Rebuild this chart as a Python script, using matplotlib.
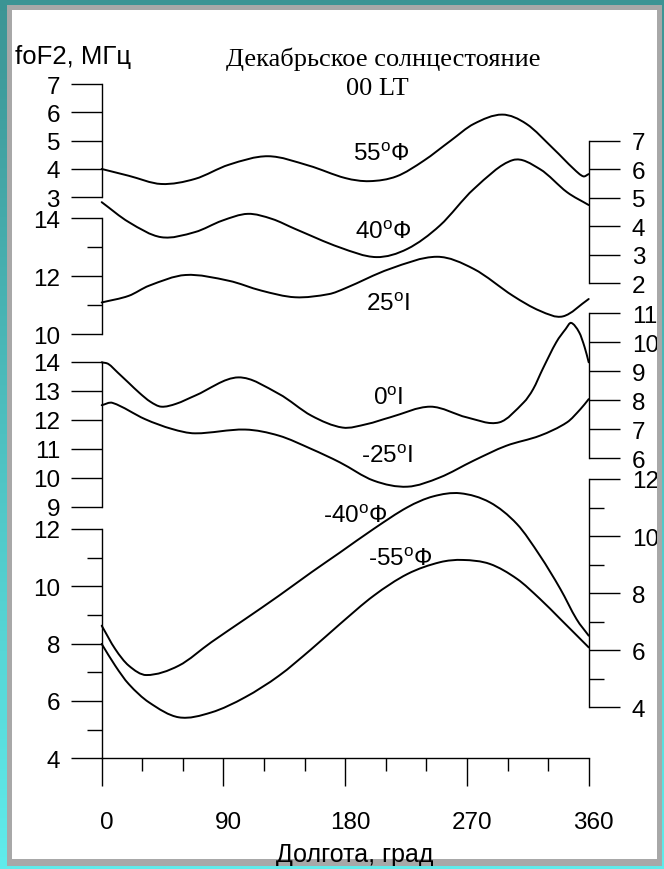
import numpy as np
import matplotlib
matplotlib.use("Agg")
import matplotlib.pyplot as plt
from matplotlib.path import Path
from matplotlib.patches import PathPatch
import matplotlib.transforms as mtransforms

plt.rcParams['font.family'] = ['Liberation Sans', 'DejaVu Sans']
plt.rcParams['mathtext.fontset'] = 'custom'
plt.rcParams['mathtext.rm'] = 'Liberation Sans'
plt.rcParams['mathtext.it'] = 'Liberation Sans'

# ---------------- data (longitude, foF2 MHz) ----------------
lon_n55 = [0, 20, 44, 69, 94, 123, 153, 180, 198, 218, 238, 258, 275, 296, 314, 334, 349, 356, 360]
f_n55 = [4.0, 3.76, 3.47, 3.65, 4.15, 4.45, 4.12, 3.68, 3.57, 3.74, 4.29, 5.0, 5.59, 5.92, 5.59, 4.71, 4.0, 3.74, 3.82]

lon_n40 = [0, 20, 44, 69, 89, 108, 126, 143, 176, 203, 226, 250, 275, 304, 324, 344, 360]
f_n40 = [4.84, 4.14, 3.61, 3.79, 4.19, 4.43, 4.25, 3.90, 3.25, 2.91, 3.2, 4.02, 5.3, 6.32, 6.0, 5.19, 4.74]

lon_n25 = [0, 20, 35, 62, 94, 118, 143, 168, 180, 213, 248, 275, 304, 324, 341, 360]
f_n25 = [11.09, 11.32, 11.67, 12.04, 11.84, 11.5, 11.27, 11.38, 11.58, 12.25, 12.67, 12.25, 11.32, 10.8, 10.61, 11.21]

lon_eq = [0, 5, 12, 20, 28, 36, 44, 55, 69, 101, 131, 155, 178, 196, 213, 243, 270, 294, 312, 319, 326, 336, 343, 347, 353, 357, 360]
f_eq = [9.31, 9.25, 8.95, 8.6, 8.25, 7.95, 7.78, 7.88, 8.16, 8.79, 8.22, 7.47, 7.06, 7.18, 7.41, 7.78, 7.41, 7.24, 7.93, 8.39, 9.08, 10.0, 10.46, 10.67, 10.34, 9.83, 9.31]

lon_s25 = [0, 8, 32, 52, 69, 106, 131, 155, 176, 201, 226, 250, 275, 299, 324, 344, 354, 360]
f_s25 = [12.5, 12.58, 12.02, 11.68, 11.53, 11.66, 11.45, 10.99, 10.53, 9.9, 9.69, 10.01, 10.59, 11.1, 11.45, 11.91, 12.37, 12.71]

lon_s40 = [0, 10, 20, 33, 57, 81, 106, 131, 155, 176, 201, 226, 245, 265, 287, 307, 324, 339, 351, 360]
f_s40 = [6.86, 6.04, 5.46, 5.13, 5.46, 6.28, 7.09, 7.91, 8.73, 9.42, 10.25, 11.01, 11.39, 11.5, 11.18, 10.42, 9.31, 8.15, 7.09, 6.51]

lon_s55 = [0, 10, 20, 35, 57, 81, 106, 131, 155, 176, 201, 226, 250, 267, 287, 307, 324, 339, 360]
f_s55 = [7.99, 7.23, 6.59, 5.95, 5.43, 5.6, 6.13, 6.88, 7.81, 8.68, 9.67, 10.43, 10.84, 10.92, 10.78, 10.26, 9.56, 8.86, 7.87]

labels = ['55$^\\mathrm{o}$Ф', '40$^\\mathrm{o}$Ф', '25$^\\mathrm{o}$I', '0$^\\mathrm{o}$I',
          '-25$^\\mathrm{o}$I', '-40$^\\mathrm{o}$Ф', '-55$^\\mathrm{o}$Ф']

xticks_major = [0, 90, 180, 270, 360]
xticks_minor = [30, 60, 120, 150, 210, 240, 300, 330]

title1 = 'Декабрьское солнцестояние'
title2 = '00 LT'
ylabel = 'foF2, МГц'
xlabel = 'Долгота, град'

# ---------------- layout ----------------
W, H = 664, 870
fig = plt.figure(figsize=(W / 100, H / 100), dpi=100, facecolor='white')

AX_TOP, AX_BOT = 20.0, 759.3
X0, X1 = 101.7, 588.7
rect = [X0 / W, 1 - AX_BOT / H, (X1 - X0) / W, (AX_BOT - AX_TOP) / H]

def pix(x, y):
    return x / W, 1 - y / H

LW = 1.4
TFS = 17.5

def make_axes(vmin, vmax, y_vmin, y_vmax, side, major, minor=()):
    s = (y_vmin - y_vmax) / (vmax - vmin)
    lo = vmin - (AX_BOT - y_vmin) / s
    hi = vmax + (y_vmax - AX_TOP) / s
    ax = fig.add_axes(rect, facecolor='none')
    ax.set_xlim(0, 360)
    ax.set_ylim(lo, hi)
    for sp in ax.spines.values():
        sp.set_visible(False)
    sp = ax.spines[side]
    sp.set_visible(True)
    sp.set_bounds(vmin, vmax)
    sp.set_linewidth(1.0)
    ax.yaxis.set_ticks_position(side)
    ax.set_yticks(major)
    ax.set_yticklabels([str(v) for v in major])
    ax.set_yticks(list(minor), minor=True)
    ax.tick_params(axis='y', which='major', length=22, width=1.0, direction='out',
                   labelsize=TFS, pad=8 if side == 'left' else 9)
    ax.tick_params(axis='y', which='minor', length=10.6, width=1.0, direction='out')
    ax.set_xticks([])
    return ax

axL1 = make_axes(3, 7, 198.3, 85.0, 'left', [3, 4, 5, 6, 7])
axR1 = make_axes(2, 7, 284.0, 141.7, 'right', [2, 3, 4, 5, 6, 7])
axL2 = make_axes(10, 14, 335.0, 219.3, 'left', [10, 12, 14], [11, 13])
axR2 = make_axes(6, 11, 459.3, 314.3, 'right', [6, 7, 8, 9, 10, 11])
axL3 = make_axes(9, 14, 507.7, 362.7, 'left', [9, 10, 11, 12, 13, 14])
axR3 = make_axes(4, 12, 708.3, 480.0, 'right', [4, 6, 8, 10, 12], [5, 7, 9, 11])
axL4 = make_axes(4, 12, 759.3, 530.0, 'left', [4, 6, 8, 10, 12], [5, 7, 9, 11])

# x axis on the bottom axes
axL4.spines['bottom'].set_visible(True)
axL4.spines['bottom'].set_linewidth(1.0)
axL4.set_xticks(xticks_major)
axL4.set_xticklabels([str(v) for v in xticks_major])
axL4.set_xticks(xticks_minor, minor=True)
axL4.tick_params(axis='x', which='major', length=20, width=1.0, direction='out', labelsize=TFS, pad=18)
axL4.tick_params(axis='x', which='minor', length=9.7, width=1.0, direction='out')
off = mtransforms.ScaledTranslation(5 / 100, 0, fig.dpi_scale_trans)
for lab in axL4.get_xticklabels():
    lab.set_transform(lab.get_transform() + off)

# smooth (cubic Bezier) line through the read points, drawn in data coordinates
def smooth_path(x, y):
    x = np.asarray(x, float); y = np.asarray(y, float)
    n = len(x)
    m = np.empty(n)
    m[1:-1] = (y[2:] - y[:-2]) / (x[2:] - x[:-2])
    m[0] = (y[1] - y[0]) / (x[1] - x[0])
    m[-1] = (y[-1] - y[-2]) / (x[-1] - x[-2])
    verts = [(x[0], y[0])]
    codes = [Path.MOVETO]
    for i in range(n - 1):
        h = x[i + 1] - x[i]
        verts += [(x[i] + h / 3, y[i] + m[i] * h / 3),
                  (x[i + 1] - h / 3, y[i + 1] - m[i + 1] * h / 3),
                  (x[i + 1], y[i + 1])]
        codes += [Path.CURVE4] * 3
    return Path(verts, codes)

for ax, lo, f in [(axL1, lon_n55, f_n55), (axR1, lon_n40, f_n40), (axL2, lon_n25, f_n25),
                  (axR2, lon_eq, f_eq), (axL3, lon_s25, f_s25), (axR3, lon_s40, f_s40),
                  (axL4, lon_s55, f_s55)]:
    ax.add_patch(PathPatch(smooth_path(lo, f), facecolor='none', edgecolor='black',
                           lw=LW, capstyle='round', joinstyle='round', clip_on=False))

# curve labels
label_pos = [(381, 155), (383, 233), (388, 305), (388, 399), (387, 457), (355, 517), (400, 560)]
for txt, (px, py) in zip(labels, label_pos):
    fig.text(*pix(px, py), txt, ha='center', va='center', fontsize=TFS, zorder=5)

# titles
fig.text(*pix(383.5, 66), title1, ha='center', va='baseline', fontsize=19,
         family=['Liberation Serif', 'DejaVu Serif'])
fig.text(*pix(377, 95), title2, ha='center', va='baseline', fontsize=19,
         family=['Liberation Serif', 'DejaVu Serif'])
fig.text(*pix(15, 64), ylabel, ha='left', va='baseline', fontsize=18.5)
fig.text(*pix(355, 862), xlabel, ha='center', va='baseline', fontsize=18, zorder=17)

# ---------------- frame ----------------
def ring(x0, y0, x1, y1, a0, b0, a1, b1):
    verts = [(x0, y0), (x1, y0), (x1, y1), (x0, y1), (x0, y0),
             (a0, b0), (a0, b1), (a1, b1), (a1, b0), (a0, b0)]
    codes = [Path.MOVETO, Path.LINETO, Path.LINETO, Path.LINETO, Path.CLOSEPOLY] * 2
    return Path(verts, codes)

ovg = fig.add_axes([0, 0, 1, 1], zorder=15, facecolor='none')
ovg.set_xlim(0, W); ovg.set_ylim(H, 0); ovg.axis('off')
ovg.add_patch(PathPatch(ring(7, 6, 662, 867, 12, 11, 657, 860), facecolor='#a8a8a8',
                        edgecolor='none'))

ovt = fig.add_axes([0, 0, 1, 1], zorder=20, facecolor='none')
ovt.set_xlim(0, W); ovt.set_ylim(H, 0); ovt.axis('off')
g = np.linspace(0, 1, 256)[:, None, None]
ctop = np.array([0x3c, 0x94, 0x94]) / 255
cbot = np.array([0x60, 0xec, 0xec]) / 255
img = ctop + g * (cbot - ctop)
im = ovt.imshow(img, extent=[0, W, H, 0], aspect='auto', interpolation='bilinear')
clip = PathPatch(ring(-1, -1, W + 1, H + 1, 7, 6, 662, 867), transform=ovt.transData,
                 facecolor='none', edgecolor='none')
ovt.add_patch(clip)
im.set_clip_path(clip)
ovt.set_xlim(0, W); ovt.set_ylim(H, 0)

fig.savefig('out.png', dpi=100, facecolor='white')
